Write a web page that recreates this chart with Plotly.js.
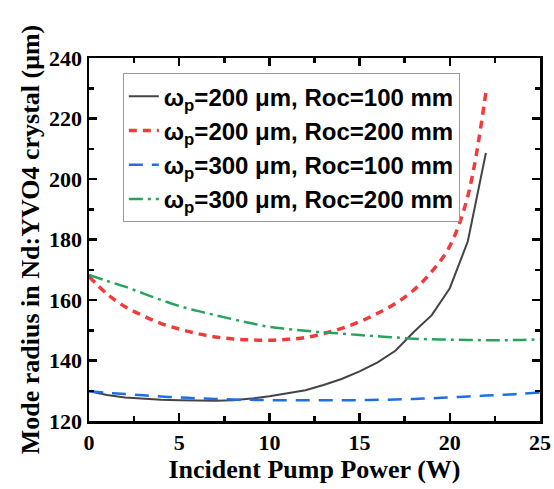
<!DOCTYPE html>
<html>
<head>
<meta charset="utf-8">
<script src="https://cdn.plot.ly/plotly-3.0.1.min.js"></script>
<style>html,body{margin:0;padding:0;background:#fff;}#chart{width:554px;height:489px;}</style>
</head>
<body>
<div id="chart"></div>
<script>
// Incident pump power (W)
var powerA = [0,1,2,3,4,5,6,7,8,9,10,11,12,13,14,15,16,17,18,19,20,21,22];
var powerB = [0,1,2,3,4,5,6,7,8,9,10,11,12,13,14,15,16,17,18,19,20,21,22,23,24,25];

// Mode radius (um)
var w200roc100 = [129.8,128.6,127.8,127.3,127.0,126.9,126.7,126.7,126.9,127.4,128.2,129.1,130.2,131.9,133.9,136.4,139.4,143.3,149.4,155.0,163.9,179.4,208.6];
var w200roc200 = [167.8,162.0,157.8,154.8,152.2,150.4,148.9,147.8,147.1,146.8,146.7,147.0,147.6,148.9,150.6,152.8,155.6,158.9,163.3,169.4,177.8,194.4,228.6];
var w300roc100 = [129.8,129.3,128.9,128.5,128.1,127.8,127.5,127.3,127.1,127.0,126.9,126.9,126.9,126.9,126.9,126.9,127.0,127.1,127.3,127.5,127.8,128.1,128.4,128.7,129.0,129.4];
var w300roc200 = [168.3,166.3,164.4,162.2,160.0,158.0,156.4,155.0,153.6,152.3,151.1,150.4,149.8,149.3,148.9,148.4,148.0,147.6,147.2,147.0,146.9,146.8,146.7,146.7,146.8,147.0];

var seriesNames = [
  'ω<sub>p</sub>=200 μm, Roc=100 mm',
  'ω<sub>p</sub>=200 μm, Roc=200 mm',
  'ω<sub>p</sub>=300 μm, Roc=100 mm',
  'ω<sub>p</sub>=300 μm, Roc=200 mm'
];

var traces = [
  {x: powerA, y: w200roc100, name: seriesNames[0], legendgroup: 'a', mode: 'lines', line: {color: '#444444', width: 2}},
  {x: powerA, y: w200roc200, name: seriesNames[1], legendgroup: 'b', mode: 'lines', line: {color: '#f23a3c', width: 3.5, dash: '8px,6px', shape: 'spline'}},
  {x: powerB, y: w300roc100, name: seriesNames[2], legendgroup: 'c', mode: 'lines', line: {color: '#1f6fe3', width: 2.5, dash: '14px,9px', shape: 'spline'}},
  {x: powerB, y: w300roc200, name: seriesNames[3], legendgroup: 'd', mode: 'lines', line: {color: '#27a35c', width: 2.5, dash: '14px,5px,3px,5px', shape: 'spline'}}
];

var axisCommon = {
  showline: true, linecolor: '#000', linewidth: 2.5, mirror: 'allticks',
  ticks: 'inside', ticklen: 8, tickwidth: 2.5, tickcolor: '#000',
  showgrid: false, zeroline: false,
  tickfont: {family: 'Liberation Serif', size: 22, color: '#000', weight: 'bold'}
};

var layout = {
  width: 554, height: 489,
  margin: {l: 89, r: 14, t: 58, b: 68},
  paper_bgcolor: '#fff', plot_bgcolor: '#fff',
  showlegend: true,
  legend: {
    x: 0.075, y: 0.958, xanchor: 'left', yanchor: 'top',
    bgcolor: 'rgba(255,255,255,0)', bordercolor: '#999', borderwidth: 1,
    font: {family: 'Liberation Sans', size: 24, color: '#000', weight: 'bold'},
    tracegroupgap: 7, traceorder: 'normal'
  },
  xaxis: Object.assign({}, axisCommon, {
    range: [0, 25], dtick: 5, tick0: 0,
    minor: {dtick: 2.5, ticks: 'inside', ticklen: 5, tickwidth: 2.5, tickcolor: '#000'},
    title: {text: 'Incident Pump Power (W)', standoff: 4, font: {family: 'Liberation Serif', size: 26, color: '#000', weight: 'bold'}}
  }),
  yaxis: Object.assign({}, axisCommon, {
    range: [120, 240], dtick: 20, tick0: 120,
    minor: {dtick: 10, ticks: 'inside', ticklen: 5, tickwidth: 2.5, tickcolor: '#000'},
    title: {text: 'Mode radius in Nd:YVO4 crystal (μm)', standoff: 2, font: {family: 'Liberation Serif', size: 26, color: '#000', weight: 'bold'}}
  })
};

Plotly.newPlot('chart', traces, layout, {displayModeBar: false, staticPlot: true});
</script>
</body>
</html>
